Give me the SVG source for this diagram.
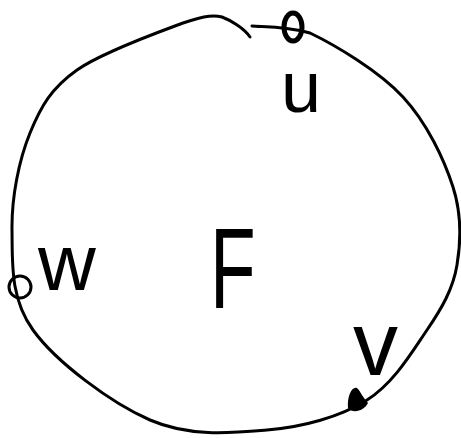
<svg xmlns="http://www.w3.org/2000/svg" width="461" height="438" viewBox="0 0 461 438">
<style>
.c{fill:none;stroke:#000;stroke-width:3;stroke-linecap:round;stroke-linejoin:round}
.t{font-family:"Liberation Sans",Arial,sans-serif;fill:#000}
</style>
<rect width="461" height="438" fill="#fff"/>
<g id="connectors">
<path class="c" d="M 252,26 C 263,27 285,26 310,33 C 335,45 379,71 403,97 C 427,123 444,159 453,187 C 462,215 461,241 457,265 C 453,289 442,308 427,330 C 412,352 394,383 367,400 C 340,417 303,427 267,430 C 231,433 189,437 150,420 C 111,403 56,362 33,330 C 10,298 12.5,263 12,230 C 11.5,197 19,160 30,133 C 41,106 51.5,88 77,70 C 102.5,52 159,32 183,23 C 207,15 215,15 222,17 C 230,20 244,28 250,37"/>
</g>
<g id="u">
<ellipse cx="293" cy="27" rx="9" ry="14" fill="none" stroke="#000" stroke-width="5"/>
<text class="t" x="281" y="112" font-size="72">u</text>
</g>
<g id="w">
<circle cx="20" cy="287" r="11" fill="none" stroke="#000" stroke-width="3"/>
<text class="t" x="38" y="290" font-size="80">w</text>
</g>
<g id="v">
<path d="M 348,408 C 347,396 352,386 357,388 C 361,392 363,398 368,403 C 364,411 353,414 348,408 Z" fill="#000"/>
<text class="t" x="353" y="375" font-size="90">v</text>
</g>
<g id="F">
<text class="t" x="210" y="308" font-size="115" transform="translate(210 0) scale(0.65 1) translate(-210 0)">F</text>
</g>
</svg>
